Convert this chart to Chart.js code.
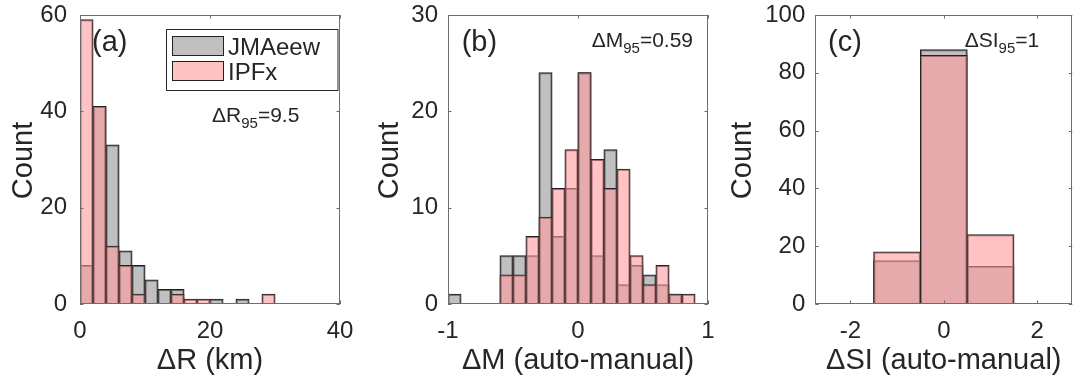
<!DOCTYPE html>
<html><head><meta charset="utf-8">
<script src="https://cdn.jsdelivr.net/npm/chart.js@4"></script>
<style>
html,body{margin:0;padding:0;background:#fff;width:1078px;height:382px;overflow:hidden}
canvas{position:absolute;top:0}
</style></head><body>
<canvas id="ca" width="360" height="382" style="left:0px"></canvas>
<canvas id="cb" width="358" height="382" style="left:360px"></canvas>
<canvas id="cc" width="360" height="382" style="left:718px"></canvas>
<script>
const seriesNames = ['JMAeew', 'IPFx'];

// Panel (a): ΔR (km), bins of 2 km
const binCentersA = [1, 3, 5, 7, 9, 11, 13, 15, 17, 19, 21, 23, 25, 27, 29];
const jmaA = [8, 41, 33, 11, 8, 5, 3, 3, 0, 0, 1, 0, 1, 0, 0];
const ipfA = [59, 41, 12, 8, 2, 0, 0, 2, 1, 1, 0, 0, 0, 0, 2];
const xTicksA = [0, 20, 40];
const yTicksA = [0, 20, 40, 60];

// Panel (b): ΔM (auto-manual), bins of 0.1
const binCentersB = [-0.95, -0.85, -0.75, -0.65, -0.55, -0.45, -0.35, -0.25, -0.15, -0.05, 0.05, 0.15, 0.25, 0.35, 0.45, 0.55, 0.65, 0.75, 0.85];
const jmaB = [1, 0, 0, 0, 5, 5, 5, 24, 7, 12, 24, 5, 16, 2, 4, 3, 2, 1, 0];
const ipfB = [0, 0, 0, 0, 3, 3, 7, 9, 12, 16, 24, 15, 12, 14, 5, 2, 4, 1, 1];
const xTicksB = [-1, 0, 1];
const yTicksB = [0, 10, 20, 30];

// Panel (c): ΔSI (auto-manual), bins of 1
const binCentersC = [-1, 0, 1];
const jmaC = [15, 88, 13];
const ipfC = [18, 86, 24];
const xTicksC = [-2, 0, 2];
const yTicksC = [0, 20, 40, 60, 80, 100];

const GRAY = 'rgba(150,150,150,0.6)';
const PINK = 'rgba(255,153,158,0.6)';
const EDGE = '#222222';
const AXIS = '#6e6e6e';
const TXT = '#262626';
const FONT = "'Liberation Sans', Arial, sans-serif";
const H = 382, PLOT_BOTTOM = 304, PLOT_TOP = 15;

function decor(cfg) {
  return {
    id: 'decor' + cfg.id,
    afterDraw(chart) {
      const ctx = chart.ctx, a = chart.chartArea;
      ctx.save();
      ctx.strokeStyle = AXIS; ctx.lineWidth = 1;
      ctx.strokeRect(Math.round(a.left) + 0.5, Math.round(a.top) + 0.5, Math.round(a.right - a.left) - 1, Math.round(a.bottom - a.top) - 1);
      const TL = 3.5;
      ctx.beginPath();
      chart.scales.x.ticks.forEach(t => {
        const p = Math.round(chart.scales.x.getPixelForValue(t.value)) + 0.5;
        ctx.moveTo(p, a.bottom); ctx.lineTo(p, a.bottom - TL);
        ctx.moveTo(p, a.top); ctx.lineTo(p, a.top + TL);
      });
      chart.scales.y.ticks.forEach(t => {
        const p = Math.round(chart.scales.y.getPixelForValue(t.value)) + 0.5;
        ctx.moveTo(a.left, p); ctx.lineTo(a.left + TL, p);
        ctx.moveTo(a.right, p); ctx.lineTo(a.right - TL, p);
      });
      ctx.stroke();

      ctx.fillStyle = TXT;
      ctx.font = '29px ' + FONT;
      ctx.textAlign = 'left'; ctx.textBaseline = 'alphabetic';
      ctx.fillText(cfg.panel, cfg.panelX, 51);
      let x = cfg.statX;
      ctx.font = '21px ' + FONT;
      ctx.fillText(cfg.stat[0], x, cfg.statY); x += ctx.measureText(cfg.stat[0]).width;
      ctx.font = '15px ' + FONT;
      ctx.fillText(cfg.stat[1], x, cfg.statY + 6); x += ctx.measureText(cfg.stat[1]).width;
      ctx.font = '21px ' + FONT;
      ctx.fillText(cfg.stat[2], x, cfg.statY);
      ctx.font = '29px ' + FONT;
      ctx.textAlign = 'center';
      ctx.fillText(cfg.xTitle, (a.left + a.right) / 2, 369);
      ctx.save();
      ctx.translate(cfg.yTitleX, (a.top + a.bottom) / 2 + 1);
      ctx.rotate(-Math.PI / 2);
      ctx.fillText('Count', 0, 0);
      ctx.restore();
      if (cfg.legend) {
        ctx.fillStyle = '#fff';
        ctx.fillRect(166.5, 29.5, 171.5, 61);
        ctx.strokeStyle = TXT;
        ctx.strokeRect(166.5, 29.5, 171.5, 61);
        const items = [[GRAY, seriesNames[0], 36.5], [PINK, seriesNames[1], 61.5]];
        items.forEach(([c, name, y]) => {
          ctx.fillStyle = c;
          ctx.fillRect(172, y, 52, 19);
          ctx.strokeStyle = EDGE;
          ctx.strokeRect(172.5, y, 51, 19);
          ctx.fillStyle = TXT;
          ctx.font = '24px ' + FONT;
          ctx.textAlign = 'left';
          ctx.fillText(name, 228, y + 18);
        });
      }
      ctx.restore();
    }
  };
}

function makeChart(cfg) {
  const ds = (name, vals, color, order) => ({
    label: name,
    data: cfg.centers.map((c, i) => ({ x: c, y: vals[i] })),
    backgroundColor: color, borderColor: EDGE, borderWidth: 1,
    inflateAmount: 0.5, grouped: false, order: order,
    barPercentage: 1, categoryPercentage: 1
  });
  return new Chart(document.getElementById(cfg.id), {
    type: 'bar',
    data: { datasets: [ds(seriesNames[0], cfg.jma, GRAY, 1), ds(seriesNames[1], cfg.ipf, PINK, 0)] },
    options: {
      responsive: false, animation: false, devicePixelRatio: 1,
      layout: { padding: { top: PLOT_TOP, right: cfg.padRight, left: 0, bottom: 0 } },
      plugins: { legend: { display: false }, tooltip: { enabled: false } },
      scales: {
        x: {
          type: 'linear', min: cfg.xMin, max: cfg.xMax, offset: false,
          grid: { display: false, drawTicks: false }, border: { display: false },
          ticks: { color: TXT, font: { family: FONT, size: 24 }, padding: 13, maxRotation: 0, autoSkip: false, callback: v => String(v) },
          afterBuildTicks: s => { s.ticks = cfg.xTicks.map(v => ({ value: v })); },
          afterFit: s => { s.height = H - PLOT_BOTTOM; s.paddingLeft = 0; s.paddingRight = 0; }
        },
        y: {
          type: 'linear', min: 0, max: cfg.yMax,
          grid: { display: false, drawTicks: false }, border: { display: false },
          ticks: { color: TXT, font: { family: FONT, size: 24 }, padding: cfg.yPad, autoSkip: false, callback: v => String(v) },
          afterBuildTicks: s => { s.ticks = cfg.yTicks.map(v => ({ value: v })); },
          afterFit: s => { s.width = cfg.yAxisW; s.paddingTop = 0; s.paddingBottom = 0; }
        }
      }
    },
    plugins: [decor(cfg)]
  });
}

makeChart({ id: 'ca', centers: binCentersA, jma: jmaA, ipf: ipfA, xTicks: xTicksA, yTicks: yTicksA,
  xMin: 0, xMax: 40, yMax: 60, yAxisW: 80, padRight: 20, yPad: 13,
  panel: '(a)', panelX: 92, stat: ['\u0394R', '95', '=9.5'], statX: 212, statY: 122,
  xTitle: '\u0394R (km)', yTitleX: 31.7, legend: true });
makeChart({ id: 'cb', centers: binCentersB, jma: jmaB, ipf: ipfB, xTicks: xTicksB, yTicks: yTicksB,
  xMin: -1, xMax: 1, yMax: 30, yAxisW: 88, padRight: 10, yPad: 10,
  panel: '(b)', panelX: 101.7, stat: ['\u0394M', '95', '=0.59'], statX: 231.7, statY: 46.7,
  xTitle: '\u0394M (auto-manual)', yTitleX: 38.3, legend: false });
makeChart({ id: 'cc', centers: binCentersC, jma: jmaC, ipf: ipfC, xTicks: xTicksC, yTicks: yTicksC,
  xMin: -2.75, xMax: 2.75, yMax: 100, yAxisW: 97.3, padRight: 5.7, yPad: 10,
  panel: '(c)', panelX: 110, stat: ['\u0394SI', '95', '=1'], statX: 246.7, statY: 46.7,
  xTitle: '\u0394SI (auto-manual)', yTitleX: 33.3, legend: false });
</script>
</body></html>
